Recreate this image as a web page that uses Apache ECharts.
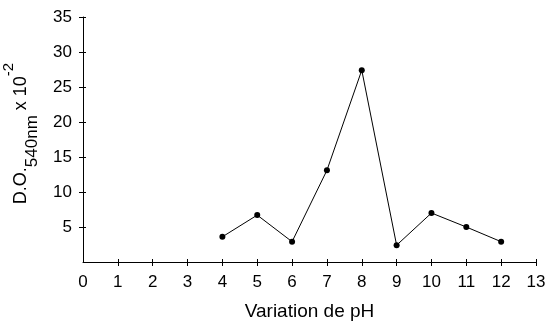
<!DOCTYPE html>
<html>
<head>
<meta charset="utf-8">
<script src="https://cdn.jsdelivr.net/npm/echarts@6/dist/echarts.min.js"></script>
<style>
html,body{margin:0;padding:0;background:#fff;}
#chart{width:547px;height:321px;}
</style>
</head>
<body>
<div id="chart"></div>
<script>
// Data
var phValues = [4, 5, 6, 7, 8, 9, 10, 11, 12];
var doValues = [3.6, 6.7, 2.9, 13.1, 27.4, 2.4, 7.0, 5.0, 2.9];
var xTickValues = [1, 2, 3, 4, 5, 6, 7, 8, 9, 10, 11, 12, 13];
var xLabelValues = [0, 1, 2, 3, 4, 5, 6, 7, 8, 9, 10, 11, 12, 13];
var yTickValues = [5, 10, 15, 20, 25, 30, 35];
var xAxisTitle = 'Variation de pH';

var points = phValues.map(function (p, i) { return [p, doValues[i]]; });

var font = "'Liberation Sans', Arial, sans-serif";
var chart = echarts.init(document.getElementById('chart'), null, {renderer: 'canvas'});

var baseX = {
  type: 'value', min: 0, max: 13, interval: 1, gridIndex: 0,
  splitLine: {show: false}
};
var baseY = {
  type: 'value', min: 0, max: 35, interval: 5, gridIndex: 0,
  splitLine: {show: false}
};

chart.setOption({
  backgroundColor: '#ffffff',
  animation: false,
  grid: {left: 83, right: 11, top: 17, bottom: 59, containLabel: false, outerBoundsMode: 'none'},
  xAxis: [
    Object.assign({}, baseX, {
      position: 'bottom',
      axisLine: {show: true, lineStyle: {color: '#000', width: 1}},
      axisTick: {show: true, inside: false, length: 4, customValues: xTickValues, lineStyle: {color: '#000'}},
      axisLabel: {show: true, margin: 12, customValues: xLabelValues, color: '#000', fontSize: 17, fontFamily: font},
      name: xAxisTitle, nameLocation: 'middle', nameGap: 40,
      nameTextStyle: {color: '#000', fontSize: 19, fontFamily: font}
    }),
    Object.assign({}, baseX, {
      position: 'bottom',
      axisLine: {show: false},
      axisTick: {show: true, inside: true, length: 3, customValues: xTickValues, lineStyle: {color: '#000'}},
      axisLabel: {show: false}
    })
  ],
  yAxis: [
    Object.assign({}, baseY, {
      position: 'left',
      axisLine: {show: true, lineStyle: {color: '#000', width: 1}},
      axisTick: {show: true, inside: false, length: 4, customValues: yTickValues, lineStyle: {color: '#000'}},
      axisLabel: {show: true, margin: 11, customValues: yTickValues, color: '#000', fontSize: 17, fontFamily: font},
      name: '{m|D.O.}{s|540nm}{m| x 10}{p|-2}',
      nameLocation: 'middle', nameGap: 42,
      nameTextStyle: {
        color: '#000', fontFamily: font, padding: [0, 0, 0, 12],
        rich: {
          m: {fontSize: 18, fontFamily: font, color: '#000', lineHeight: 40, verticalAlign: 'middle'},
          s: {fontSize: 17, fontFamily: font, color: '#000', lineHeight: 18, verticalAlign: 'bottom'},
          p: {fontSize: 15, fontFamily: font, color: '#000', lineHeight: 18, verticalAlign: 'top'}
        }
      }
    }),
    Object.assign({}, baseY, {
      position: 'left',
      axisLine: {show: false},
      axisTick: {show: true, inside: true, length: 3, customValues: yTickValues, lineStyle: {color: '#000'}},
      axisLabel: {show: false}
    })
  ],
  series: [{
    type: 'line',
    xAxisIndex: 0, yAxisIndex: 0,
    data: points,
    symbol: 'circle',
    symbolSize: 6,
    showSymbol: true,
    itemStyle: {color: '#000'},
    lineStyle: {color: '#000', width: 1},
    silent: true
  }]
});
</script>
</body>
</html>
